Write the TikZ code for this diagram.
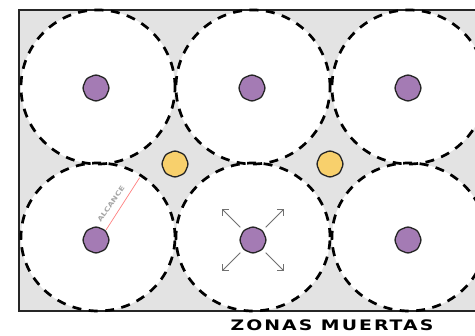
\documentclass[tikz,border=0pt]{standalone}
\usepackage{fontspec}
\usetikzlibrary{shapes.geometric,calc,arrows.meta}
\newfontfamily\titlefont[FakeStretch=1.3,LetterSpace=14]{DejaVu Sans Bold}
\newfontfamily\smallfont[FakeStretch=1.25]{DejaVu Sans Bold}
\definecolor{zonegray}{HTML}{E3E3E3}
\definecolor{lamppurple}{HTML}{A47BB4}
\definecolor{lampyellow}{HTML}{F8D06C}
\definecolor{arrowgray}{HTML}{707070}
\tikzset{
  zone/.style={ellipse, draw=none, fill=white, inner sep=0pt},
  zoneline/.style={ellipse, draw=black, line width=2.7pt, dash pattern=on 9pt off 7.5pt, inner sep=0pt},
  lamp/.style={regular polygon, regular polygon sides=8, shape border rotate=22.5, inner sep=0pt,
    minimum size=27pt, draw=black!85, line width=1.3pt, rounded corners=2.5pt, fill=lamppurple},
  deadlamp/.style={lamp, fill=lampyellow},
  spread/.style={draw=arrowgray, line width=0.8pt, -{Straight Barb[length=4.5pt,width=9pt]}},
}
\begin{document}
\begin{tikzpicture}[x=1pt,y=-1pt]
\useasboundingbox (0,0) rectangle (475,336);
\begin{scope}
\clip (0,0) rectangle (475,336);
\fill[zonegray] (19,10) rectangle (490,311);
% coverage areas
\foreach \n/\x/\y/\h in {z1/98/87/154, z2/253/87/154, z3/409/87/154, z4/98/237/148, z5/253/237/148, z6/409/237/148}{
  \node[zone, minimum width=154pt, minimum height=\h pt] (\n) at (\x,\y) {};
}
\draw[black!85, line width=1.5pt] (490,10) -- (19,10) -- (19,311) -- (490,311);
\foreach \n/\x/\y/\h in {c1/98/87/154, c2/253/87/154, c3/409/87/154, c4/98/237/148, c5/253/237/148, c6/409/237/148}{
  \node[zoneline, minimum width=154pt, minimum height=\h pt] (\n) at (\x,\y) {};
}
\end{scope}
% lamps
\node[lamp] (d1) at (96,88) {};
\node[lamp] (d2) at (252,88) {};
\node[lamp] (d3) at (408,88) {};
\node[lamp] (d4) at (96,240) {};
\node[lamp] (d5) at (253,240) {};
\node[lamp] (d6) at (408,240) {};
\node[deadlamp] (y1) at (175,164) {};
\node[deadlamp] (y2) at (330,164) {};
% reach
\coordinate (r1) at ($(d4)+(-55:76)$);
\draw[red!50, line width=0.7pt] (d4.north east) -- (r1);
\node[font=\smallfont\fontsize{6.5}{7}\selectfont, text=black!35, rotate=55, inner sep=0pt] (lbl) at (111,204) {ALCANCE};
% spreading arrows
\foreach \a in {45,135,-45,-135}{
  \draw[spread] ($(d5)+(\a:18)$) -- ($(d5)+(\a:44)$);
}
\node[font=\titlefont\fontsize{14.5}{16}\selectfont, inner sep=0pt] (title) at (332,325) {ZONAS MUERTAS};
\end{tikzpicture}
\end{document}
